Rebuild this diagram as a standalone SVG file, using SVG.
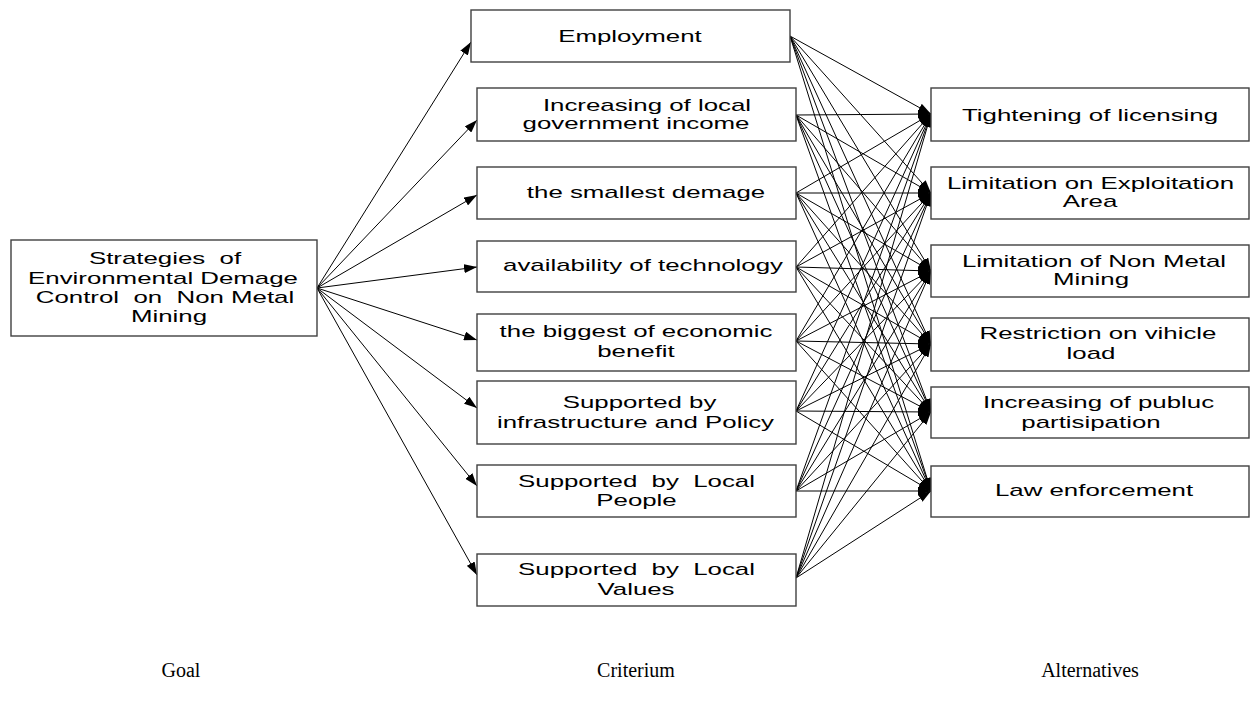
<svg xmlns="http://www.w3.org/2000/svg" width="1250" height="709" viewBox="0 0 1250 709">
<style>
  .box { fill: #fff; stroke: #404040; stroke-width: 1.4; }
  .t { font-family: "Liberation Sans", Arial, sans-serif; font-size: 17px; fill: #000; text-anchor: middle; white-space: pre; }
  .lbl { font-family: "Liberation Serif", "Times New Roman", serif; font-size: 20px; fill: #000; text-anchor: middle; }
  .c { stroke: #000; stroke-width: 1; fill: none; marker-end: url(#ah); }
</style>
<defs>
  <marker id="ah" markerUnits="userSpaceOnUse" markerWidth="13" markerHeight="9" refX="13" refY="4.5" orient="auto">
    <path d="M0,0 L13,4.5 L0,9 z" fill="#000"/>
  </marker>
</defs>
<rect width="1250" height="709" fill="#fff"/>

<g id="connectors">
  <line class="c" x1="317" y1="288" x2="471" y2="42"/>
  <line class="c" x1="317" y1="288" x2="477" y2="120"/>
  <line class="c" x1="317" y1="288" x2="477" y2="195"/>
  <line class="c" x1="317" y1="288" x2="477" y2="267"/>
  <line class="c" x1="317" y1="288" x2="477" y2="340"/>
  <line class="c" x1="317" y1="288" x2="477" y2="408"/>
  <line class="c" x1="317" y1="288" x2="477" y2="486"/>
  <line class="c" x1="317" y1="288" x2="477" y2="575"/>

  <line class="c" x1="790" y1="36" x2="931" y2="114"/>
  <line class="c" x1="790" y1="36" x2="931" y2="193"/>
  <line class="c" x1="790" y1="36" x2="931" y2="271"/>
  <line class="c" x1="790" y1="36" x2="931" y2="344"/>
  <line class="c" x1="790" y1="36" x2="931" y2="412"/>
  <line class="c" x1="790" y1="36" x2="931" y2="491"/>

  <line class="c" x1="796" y1="115" x2="931" y2="114"/>
  <line class="c" x1="796" y1="115" x2="931" y2="193"/>
  <line class="c" x1="796" y1="115" x2="931" y2="271"/>
  <line class="c" x1="796" y1="115" x2="931" y2="344"/>
  <line class="c" x1="796" y1="115" x2="931" y2="412"/>
  <line class="c" x1="796" y1="115" x2="931" y2="491"/>

  <line class="c" x1="796" y1="193" x2="931" y2="114"/>
  <line class="c" x1="796" y1="193" x2="931" y2="193"/>
  <line class="c" x1="796" y1="193" x2="931" y2="271"/>
  <line class="c" x1="796" y1="193" x2="931" y2="344"/>
  <line class="c" x1="796" y1="193" x2="931" y2="412"/>
  <line class="c" x1="796" y1="193" x2="931" y2="491"/>

  <line class="c" x1="796" y1="267" x2="931" y2="114"/>
  <line class="c" x1="796" y1="267" x2="931" y2="193"/>
  <line class="c" x1="796" y1="267" x2="931" y2="271"/>
  <line class="c" x1="796" y1="267" x2="931" y2="344"/>
  <line class="c" x1="796" y1="267" x2="931" y2="412"/>
  <line class="c" x1="796" y1="267" x2="931" y2="491"/>

  <line class="c" x1="796" y1="341" x2="931" y2="114"/>
  <line class="c" x1="796" y1="341" x2="931" y2="193"/>
  <line class="c" x1="796" y1="341" x2="931" y2="271"/>
  <line class="c" x1="796" y1="341" x2="931" y2="344"/>
  <line class="c" x1="796" y1="341" x2="931" y2="412"/>
  <line class="c" x1="796" y1="341" x2="931" y2="491"/>

  <line class="c" x1="796" y1="411" x2="931" y2="114"/>
  <line class="c" x1="796" y1="411" x2="931" y2="193"/>
  <line class="c" x1="796" y1="411" x2="931" y2="271"/>
  <line class="c" x1="796" y1="411" x2="931" y2="344"/>
  <line class="c" x1="796" y1="411" x2="931" y2="412"/>
  <line class="c" x1="796" y1="411" x2="931" y2="491"/>

  <line class="c" x1="796" y1="491" x2="931" y2="114"/>
  <line class="c" x1="796" y1="491" x2="931" y2="193"/>
  <line class="c" x1="796" y1="491" x2="931" y2="271"/>
  <line class="c" x1="796" y1="491" x2="931" y2="344"/>
  <line class="c" x1="796" y1="491" x2="931" y2="412"/>
  <line class="c" x1="796" y1="491" x2="931" y2="491"/>

  <line class="c" x1="796" y1="578" x2="931" y2="114"/>
  <line class="c" x1="796" y1="578" x2="931" y2="193"/>
  <line class="c" x1="796" y1="578" x2="931" y2="271"/>
  <line class="c" x1="796" y1="578" x2="931" y2="344"/>
  <line class="c" x1="796" y1="578" x2="931" y2="412"/>
  <line class="c" x1="796" y1="578" x2="931" y2="491"/>
</g>

<g id="goal">
  <rect class="box" x="11" y="240" width="306" height="96"/>
  <text class="t" transform="matrix(1.52 0 0 1 165 264)">Strategies  of</text>
  <text class="t" transform="matrix(1.52 0 0 1 163 284)">Environmental Demage</text>
  <text class="t" transform="matrix(1.52 0 0 1 165 303)">Control  on  Non Metal</text>
  <text class="t" transform="matrix(1.52 0 0 1 169 322)">Mining</text>
</g>

<g id="c1">
  <rect class="box" x="471" y="10" width="319" height="52"/>
  <text class="t" transform="matrix(1.52 0 0 1 630 42)">Employment</text>
</g>
<g id="c2">
  <rect class="box" x="477" y="88" width="319" height="53"/>
  <text class="t" transform="matrix(1.52 0 0 1 647 111)">Increasing of local</text>
  <text class="t" transform="matrix(1.52 0 0 1 636 129)">government income</text>
</g>
<g id="c3">
  <rect class="box" x="477" y="167" width="319" height="52"/>
  <text class="t" transform="matrix(1.52 0 0 1 646 198)">the smallest demage</text>
</g>
<g id="c4">
  <rect class="box" x="477" y="241" width="319" height="51"/>
  <text class="t" transform="matrix(1.52 0 0 1 643 271)">availability of technology</text>
</g>
<g id="c5">
  <rect class="box" x="477" y="314" width="319" height="57"/>
  <text class="t" transform="matrix(1.52 0 0 1 636 337)">the biggest of economic</text>
  <text class="t" transform="matrix(1.52 0 0 1 636 357)">benefit</text>
</g>
<g id="c6">
  <rect class="box" x="477" y="381" width="319" height="63"/>
  <text class="t" transform="matrix(1.52 0 0 1 639.5 408)">Supported by</text>
  <text class="t" transform="matrix(1.52 0 0 1 635.5 428)">infrastructure and Policy</text>
</g>
<g id="c7">
  <rect class="box" x="477" y="465" width="319" height="52"/>
  <text class="t" transform="matrix(1.52 0 0 1 636.5 487)">Supported  by  Local</text>
  <text class="t" transform="matrix(1.52 0 0 1 636.5 506)">People</text>
</g>
<g id="c8">
  <rect class="box" x="477" y="554" width="319" height="52"/>
  <text class="t" transform="matrix(1.52 0 0 1 636.5 575)">Supported  by  Local</text>
  <text class="t" transform="matrix(1.52 0 0 1 636 595)">Values</text>
</g>

<g id="a1">
  <rect class="box" x="931" y="88" width="318" height="53"/>
  <text class="t" transform="matrix(1.52 0 0 1 1090 121)">Tightening of licensing</text>
</g>
<g id="a2">
  <rect class="box" x="931" y="167" width="318" height="52"/>
  <text class="t" transform="matrix(1.52 0 0 1 1090.5 189)">Limitation on Exploitation</text>
  <text class="t" transform="matrix(1.52 0 0 1 1090 207)">Area</text>
</g>
<g id="a3">
  <rect class="box" x="931" y="245" width="318" height="52"/>
  <text class="t" transform="matrix(1.52 0 0 1 1094 267)">Limitation of Non Metal</text>
  <text class="t" transform="matrix(1.52 0 0 1 1091 285)">Mining</text>
</g>
<g id="a4">
  <rect class="box" x="931" y="318" width="318" height="53"/>
  <text class="t" transform="matrix(1.52 0 0 1 1098 339)">Restriction on vihicle</text>
  <text class="t" transform="matrix(1.52 0 0 1 1091 359)">load</text>
</g>
<g id="a5">
  <rect class="box" x="931" y="387" width="318" height="51"/>
  <text class="t" transform="matrix(1.52 0 0 1 1098.5 408)">Increasing of publuc</text>
  <text class="t" transform="matrix(1.52 0 0 1 1091 428)">partisipation</text>
</g>
<g id="a6">
  <rect class="box" x="931" y="466" width="318" height="51"/>
  <text class="t" transform="matrix(1.52 0 0 1 1094 496)">Law enforcement</text>
</g>

<g id="labels">
  <text class="lbl" x="181" y="677">Goal</text>
  <text class="lbl" x="636" y="677">Criterium</text>
  <text class="lbl" x="1090" y="677">Alternatives</text>
</g>
</svg>
